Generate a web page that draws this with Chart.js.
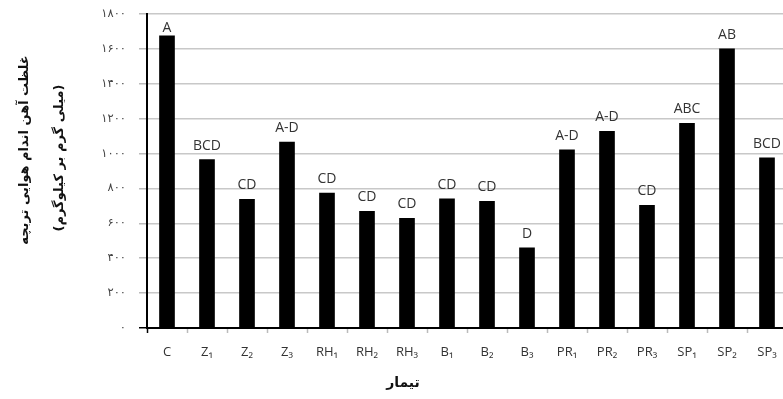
<!DOCTYPE html>
<html><head><meta charset="utf-8">
<script src="https://cdn.jsdelivr.net/npm/chart.js@4/dist/chart.umd.min.js"></script>
<style>html,body{margin:0;padding:0;overflow:hidden;background:#fff;width:783px;height:399px}
#wrap{position:relative;width:800px;height:399px}</style></head>
<body><div id="wrap"><canvas id="c" width="800" height="399"></canvas></div>
<script>
const categories = ['C','Z₁','Z₂','Z₃','RH₁','RH₂','RH₃','B₁','B₂','B₃','PR₁','PR₂','PR₃','SP₁','SP₂','SP₃'];
const ironValues = [1675, 965, 737, 1066, 774, 669, 629, 741, 726, 459, 1022, 1127, 703, 1173, 1600, 975];
const groupLetters = ['A','BCD','CD','A-D','CD','CD','CD','CD','CD','D','A-D','A-D','CD','ABC','AB','BCD'];
const yTickLabels = ['۰','۲۰۰','۴۰۰','۶۰۰','۸۰۰','۱۰۰۰','۱۲۰۰','۱۴۰۰','۱۶۰۰','۱۸۰۰'];
const yTitleLines = ['غلظت آهن اندام هوایی تربچه','(میلی گرم بر کیلوگرم)'];
const xTitle = 'تیمار';

const annot = {
  id: 'annot',
  afterDatasetsDraw(chart) {
    const ctx = chart.ctx, meta = chart.getDatasetMeta(0);
    ctx.save();
    ctx.font = '14px "Open Sans"';
    ctx.fillStyle = '#333';
    ctx.textAlign = 'center';
    ctx.textBaseline = 'alphabetic';
    meta.data.forEach((bar, i) => {
      const y = Math.max(bar.y - 10, chart.chartArea.top + 18);
      ctx.fillText(groupLetters[i], bar.x, y);
    });
    ctx.restore();
  },
  afterDraw(chart) {
    const ctx = chart.ctx;
    ctx.save();
    ctx.fillStyle = '#111';
    ctx.textAlign = 'center';
    ctx.textBaseline = 'middle';
    ctx.font = 'bold 13px "DejaVu Sans"';
    const pos = [[25, 150], [60, 158]];
    yTitleLines.forEach((t, i) => {
      ctx.save();
      ctx.translate(pos[i][0], pos[i][1]);
      ctx.rotate(-Math.PI / 2);
      ctx.fillText(t, 0, 0);
      ctx.restore();
    });
    ctx.font = 'bold 14px "DejaVu Sans"';
    ctx.fillText(xTitle, 403, 383);
    ctx.restore();
  }
};

new Chart(document.getElementById('c'), {
  type: 'bar',
  data: {
    labels: categories,
    datasets: [{ data: ironValues, backgroundColor: '#000', borderWidth: 0, barThickness: 15 }]
  },
  options: {
    responsive: false,
    animation: false,
    devicePixelRatio: 1,
    layout: { padding: { left: 0, right: 13, top: 14, bottom: 0 } },
    plugins: { legend: { display: false }, tooltip: { enabled: false } },
    scales: {
      x: {
        afterFit(s) { s.height = 71; },
        border: { color: '#000', width: 2 },
        grid: {
          offset: true, drawOnChartArea: false, tickLength: 5,
          tickColor: c => (c.index === 0 ? '#000' : '#bbb'), tickWidth: 1.5
        },
        ticks: { color: '#333', font: { family: '"Open Sans"', size: 13 }, padding: 11, maxRotation: 0, autoSkip: false }
      },
      y: {
        min: 0, max: 1800,
        afterFit(s) { s.width = 147; s.paddingTop = 0; s.paddingBottom = 0; },
        border: { color: '#000', width: 2 },
        grid: {
          color: c => (c.tick && c.tick.value === 0 ? '#000' : '#c8c8c8'),
          tickColor: c => (c.tick && c.tick.value === 0 ? '#000' : '#bbb'),
          lineWidth: 1.5, tickLength: 8
        },
        ticks: {
          stepSize: 200, padding: 13, color: '#444',
          font: { family: '"DejaVu Sans"', size: 11.5 },
          callback: (v, i) => yTickLabels[i]
        }
      }
    }
  },
  plugins: [annot]
});
</script></body></html>
